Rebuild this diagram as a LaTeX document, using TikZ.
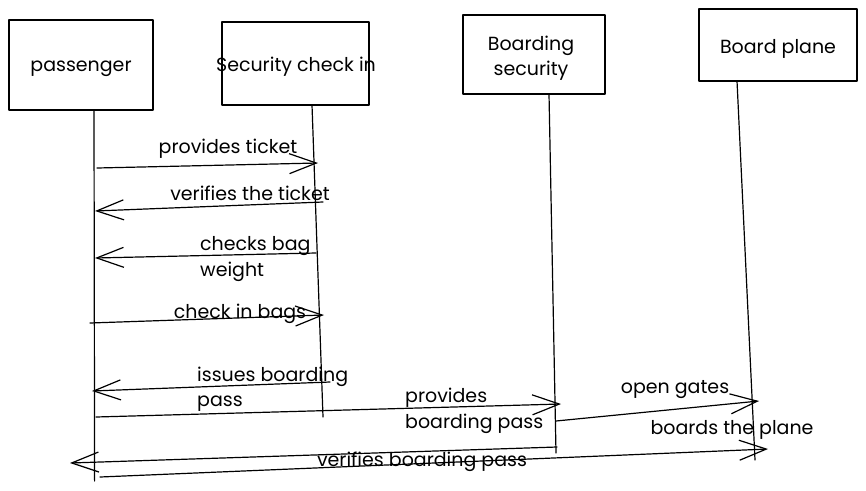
\documentclass[tikz,border=0pt]{standalone}
\usepackage{fontspec}
\setmainfont{Poppins}
\usetikzlibrary{arrows.meta}
\tikzset{
  actorbox/.style={draw, line width=1.3pt, inner sep=0pt},
  lifeline/.style={line width=1.2pt},
  msg/.style={line width=1.2pt, -{Straight Barb[length=27pt,width=20pt,line width=1.2pt]}},
  lbl/.style={inner sep=0pt, yshift=-3pt, font=\fontsize{19}{25.5}\selectfont},
  lbll/.style={lbl, align=left, anchor=west},
}
\begin{document}
\begin{tikzpicture}[x=1pt,y=-1pt,line cap=round,line join=round]
\useasboundingbox (0,0) rectangle (866,490);
\fill[white] (0,0) rectangle (866,490);
% actor boxes
\node[actorbox, minimum width=144pt, minimum height=90pt] (pas) at (81,65) {};
\node[actorbox, minimum width=147pt, minimum height=83pt] (sec) at (295.5,63.5) {};
\node[actorbox, minimum width=142pt, minimum height=79pt] (bsec) at (534,54.5) {};
\node[actorbox, minimum width=158pt, minimum height=72pt] (bp) at (778,45) {};
\node[lbl] (tpas) at (81,66) {passenger};
\node[lbl] (tsec) at (296,64) {Security check in};
\node[lbl, align=center] (tbsec) at (531,55) {Boarding\\security};
\node[lbl] (tbp) at (778,46) {Board plane};
% lifelines
\coordinate (l1a) at (94,110); \coordinate (l1b) at (94.6,481);
\coordinate (l2a) at (312,105); \coordinate (l2b) at (323,417);
\coordinate (l3a) at (549,94); \coordinate (l3b) at (556,453);
\coordinate (l4a) at (737,81); \coordinate (l4b) at (755,460);
\draw[lifeline] (l1a) -- (l1b);
\draw[lifeline] (l2a) -- (l2b);
\draw[lifeline] (l3a) -- (l3b);
\draw[lifeline] (l4a) -- (l4b);
% message end points
\coordinate (m1a) at (97,168);  \coordinate (m1b) at (318,163);
\coordinate (m2a) at (323,202); \coordinate (m2b) at (95,211);
\coordinate (m3a) at (316,253); \coordinate (m3b) at (95,258);
\coordinate (m4a) at (90,323);  \coordinate (m4b) at (324,315);
\coordinate (m5a) at (330,382); \coordinate (m5b) at (92,391);
\coordinate (m6a) at (96,417);  \coordinate (m6b) at (561,404);
\coordinate (m7a) at (556,421); \coordinate (m7b) at (759,401);
\coordinate (m8a) at (557,447); \coordinate (m8b) at (70,463);
\coordinate (m9a) at (100,477); \coordinate (m9b) at (768,449);
\draw[msg] (m1a) -- (m1b);
\draw[msg] (m2a) -- (m2b);
\draw[msg] (m3a) -- (m3b);
\draw[msg] (m4a) -- (m4b);
\draw[msg] (m5a) -- (m5b);
\draw[msg] (m6a) -- (m6b);
\draw[msg] (m7a) -- (m7b);
\draw[msg] (m8a) -- (m8b);
\draw[msg] (m9a) -- (m9b);
% labels
\node[lbl] (t1) at (228,146) {provides ticket};
\node[lbl] (t2) at (250,190) {verifies the ticket};
\node[lbll] (t3) at (200,256) {checks bag\\weight};
\node[lbl] (t4) at (240,311) {check in bags};
\node[lbll] (t5) at (197,386) {issues boarding\\pass};
\node[lbll] (t6) at (405,408) {provides\\boarding pass};
\node[lbl] (t7) at (675,387) {open gates};
\node[lbl] (t8) at (422,459) {verifies boarding pass};
\node[lbl] (t9) at (732,427) {boards the plane};
\end{tikzpicture}
\end{document}
